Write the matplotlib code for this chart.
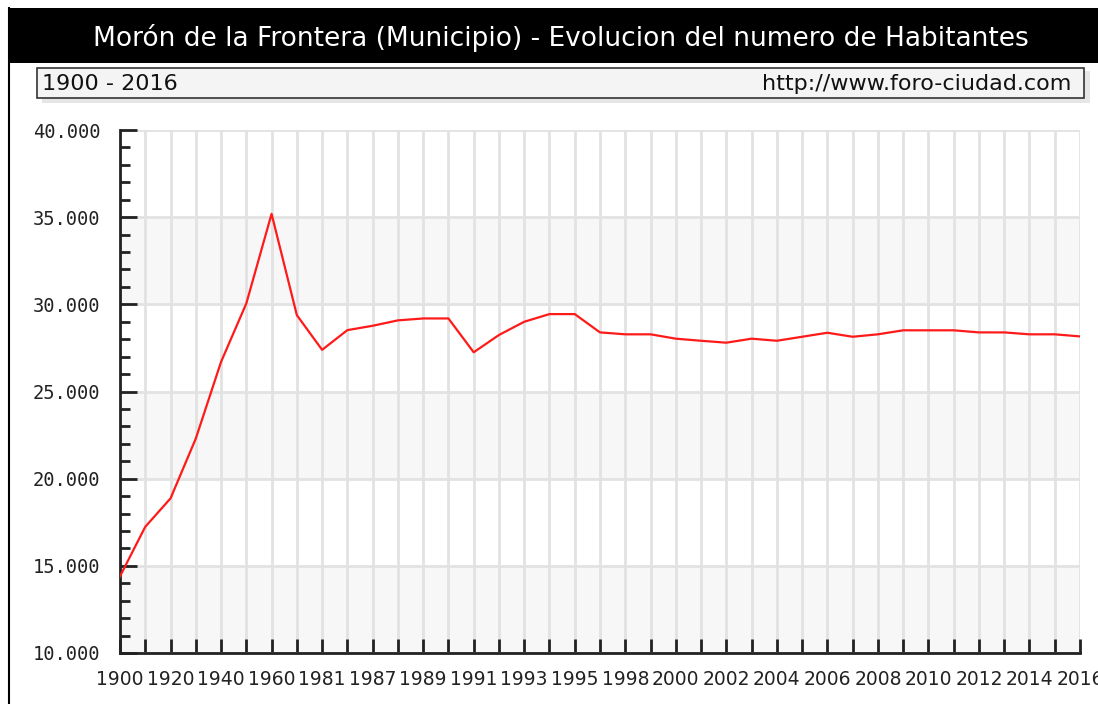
import numpy as np
import matplotlib.pyplot as plt
from matplotlib.patches import Rectangle
from matplotlib.ticker import FuncFormatter, MultipleLocator

# Data
years = ['1900', '1910', '1920', '1930', '1940', '1950', '1960', '1970', '1981', '1986',
         '1987', '1988', '1989', '1990', '1991', '1992', '1993', '1994', '1995', '1996',
         '1998', '1999', '2000', '2001', '2002', '2003', '2004', '2005', '2006', '2007',
         '2008', '2009', '2010', '2011', '2012', '2013', '2014', '2015', '2016']
habitantes = [14400, 17240, 18870, 22300, 26700, 30050, 35190, 29380, 27390, 28520,
              28770, 29080, 29190, 29190, 27250, 28240, 29000, 29440, 29440, 28390,
              28280, 28280, 28030, 27910, 27800, 28030, 27910, 28140, 28370, 28140,
              28280, 28510, 28510, 28510, 28390, 28390, 28280, 28280, 28160]
shown_labels = ['1900', '1920', '1940', '1960', '1981', '1987', '1989', '1991', '1993', '1995',
                '1998', '2000', '2002', '2004', '2006', '2008', '2010', '2012', '2014', '2016']

title = 'Morón de la Frontera (Municipio) - Evolucion del numero de Habitantes'
subtitle_left = '1900 - 2016'
subtitle_right = 'http://www.foro-ciudad.com'

W, H = 1098, 704
fig = plt.figure(figsize=(W / 100, H / 100), dpi=100)
fig.patch.set_facecolor('white')

def fx(px):
    return px / W

def fy(py):
    return 1 - py / H

# header band + frame
fig.patches.append(Rectangle((fx(8), fy(63)), fx(W - 8) + 0.01, fy(8) - fy(63),
                             transform=fig.transFigure, facecolor='black', edgecolor='none'))
fig.add_artist(plt.Line2D([fx(8.5), fx(8.5)], [fy(8), 0], transform=fig.transFigure,
                          color='black', lw=1.5))
fig.text(fx(561), fy(38), title, color='white', fontsize=19, ha='center', va='center',
         family='DejaVu Sans')

# subtitle box with a faint shadow
fig.patches.append(Rectangle((fx(42), fy(103)), fx(1048), fy(71) - fy(103),
                             transform=fig.transFigure, facecolor='#e6e6e6', edgecolor='none'))
fig.patches.append(Rectangle((fx(37), fy(98)), fx(1047), fy(68) - fy(98),
                             transform=fig.transFigure, facecolor='#f4f4f4', edgecolor='#333333', lw=1.2))
fig.text(fx(42), fy(84), subtitle_left, fontsize=16, ha='left', va='center', color='#111111')
fig.text(fx(1071), fy(84), subtitle_right, fontsize=16, ha='right', va='center', color='#111111')

# plot area
ax = fig.add_axes([fx(120), fy(653), fx(960), fy(130) - fy(653)])
x = np.arange(len(years))
for lo in (10000, 20000, 30000):
    ax.axhspan(lo, lo + 5000, color='#f7f7f7', zorder=0, lw=0)
ax.plot(x, habitantes, color='#ff1a1a', lw=1.6, zorder=3)

ax.set_xlim(0, len(years) - 1)
ax.set_ylim(10000, 40000)
ax.set_xticks(x)
ax.set_xticklabels([y if y in shown_labels and i % 2 == 0 else '' for i, y in enumerate(years)])
ax.yaxis.set_major_locator(MultipleLocator(5000))
ax.yaxis.set_minor_locator(MultipleLocator(1000))
ax.yaxis.set_major_formatter(FuncFormatter(lambda v, p: f'{int(v):,}'.replace(',', '.')))

ax.grid(True, which='major', color='#e2e2e2', lw=2, zorder=1)
ax.set_axisbelow(True)
for s in ('top', 'right'):
    ax.spines[s].set_visible(False)
for s in ('left', 'bottom'):
    ax.spines[s].set_linewidth(2)
    ax.spines[s].set_color('#222222')

ax.tick_params(axis='y', which='major', direction='in', length=12, width=2, color='#222222',
               labelsize=13.5, pad=14, labelcolor='#222222')
ax.tick_params(axis='y', which='minor', direction='in', length=7, width=2, color='#222222')
ax.tick_params(axis='x', which='major', direction='in', length=10, width=2, color='#222222',
               labelsize=13.5, pad=12, labelcolor='#222222')
for lbl in ax.get_yticklabels():
    lbl.set_family('DejaVu Sans Mono')
for lbl in ax.get_xticklabels():
    lbl.set_clip_on(False)

fig.savefig('out.png', dpi=100)
